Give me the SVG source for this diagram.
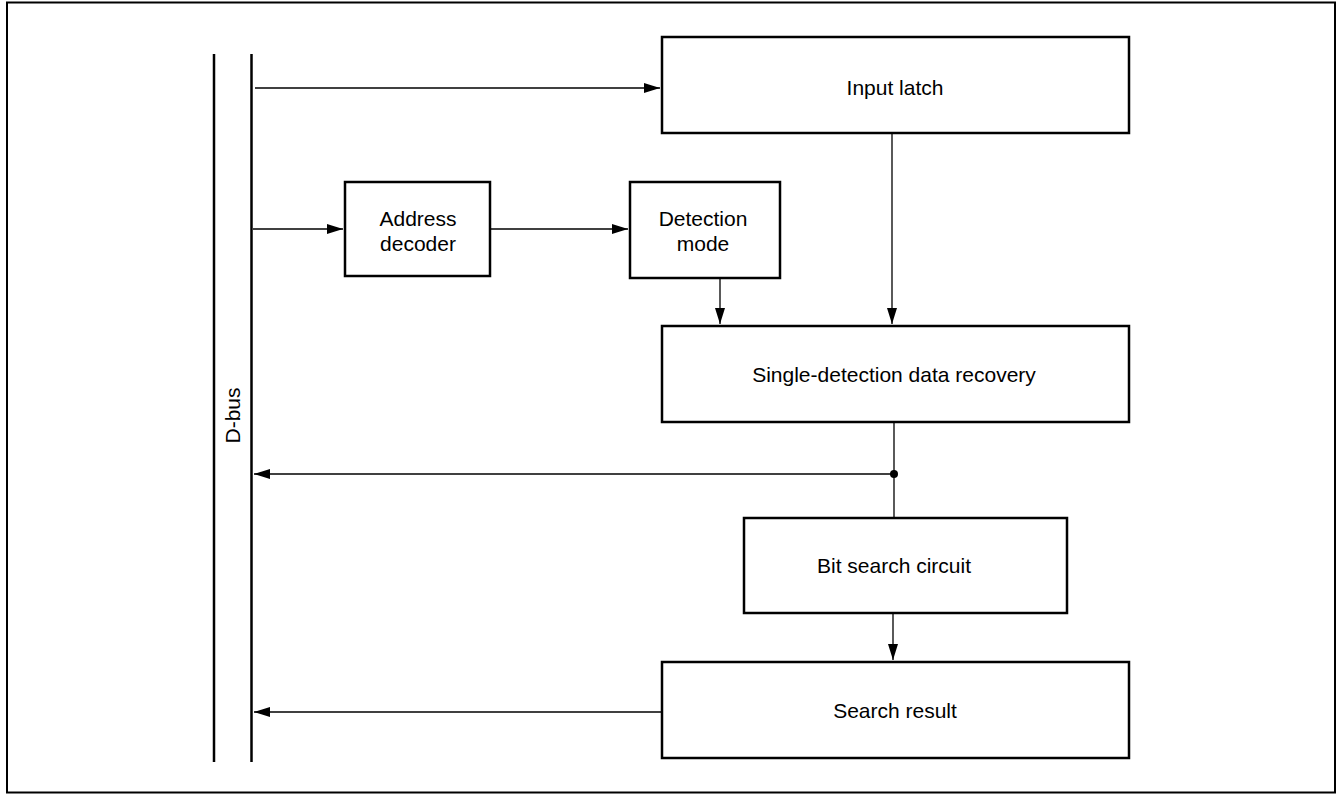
<svg xmlns="http://www.w3.org/2000/svg" width="1336" height="794" viewBox="0 0 1336 794">
<style>
.box{fill:#fff;stroke:#000;stroke-width:2.5}
.bus{stroke:#000;stroke-width:2.5;fill:none}
.ln{stroke:#000;stroke-width:1.3;fill:none}
text{font-family:"Liberation Sans",Arial,sans-serif;font-size:21px;fill:#000;text-anchor:middle}
</style>
<defs>
<marker id="ah" viewBox="0 0 16 10" refX="16" refY="5" markerWidth="16" markerHeight="10" markerUnits="userSpaceOnUse" orient="auto">
<path d="M0,0 L16,5 L0,10 Z" fill="#000"/>
</marker>
</defs>
<rect x="7" y="2.5" width="1328" height="790" fill="none" stroke="#000" stroke-width="2"/>
<g id="dbus">
<line class="bus" x1="214" y1="54" x2="214" y2="762"/>
<line class="bus" x1="251.5" y1="54" x2="251.5" y2="762"/>
<text transform="translate(240,415.5) rotate(-90)">D-bus</text>
</g>
<g id="connectors">
<line class="ln" x1="255" y1="88" x2="660" y2="88" marker-end="url(#ah)"/>
<line class="ln" x1="253" y1="229" x2="343" y2="229" marker-end="url(#ah)"/>
<line class="ln" x1="491" y1="229" x2="628" y2="229" marker-end="url(#ah)"/>
<line class="ln" x1="720" y1="279" x2="720" y2="324" marker-end="url(#ah)"/>
<line class="ln" x1="892" y1="134" x2="892" y2="324" marker-end="url(#ah)"/>
<line class="ln" x1="894" y1="423" x2="894" y2="517"/>
<line class="ln" x1="894" y1="474" x2="254" y2="474" marker-end="url(#ah)"/>
<circle cx="894" cy="474" r="4" fill="#000"/>
<line class="ln" x1="893" y1="614" x2="893" y2="660" marker-end="url(#ah)"/>
<line class="ln" x1="661" y1="712" x2="254" y2="712" marker-end="url(#ah)"/>
</g>
<g id="input-latch">
<rect class="box" x="662" y="37" width="467" height="96"/>
<text x="895" y="95">Input latch</text>
</g>
<g id="address-decoder">
<rect class="box" x="345" y="182" width="145" height="94"/>
<text x="418" y="226">Address</text>
<text x="418" y="251">decoder</text>
</g>
<g id="detection-mode">
<rect class="box" x="630" y="182" width="150" height="96"/>
<text x="703" y="226">Detection</text>
<text x="703" y="251">mode</text>
</g>
<g id="single-detection">
<rect class="box" x="662" y="326" width="467" height="96"/>
<text x="894" y="382">Single-detection data recovery</text>
</g>
<g id="bit-search">
<rect class="box" x="744" y="518" width="323" height="95"/>
<text x="894" y="573">Bit search circuit</text>
</g>
<g id="search-result">
<rect class="box" x="662" y="662" width="467" height="96"/>
<text x="895" y="718">Search result</text>
</g>
</svg>
